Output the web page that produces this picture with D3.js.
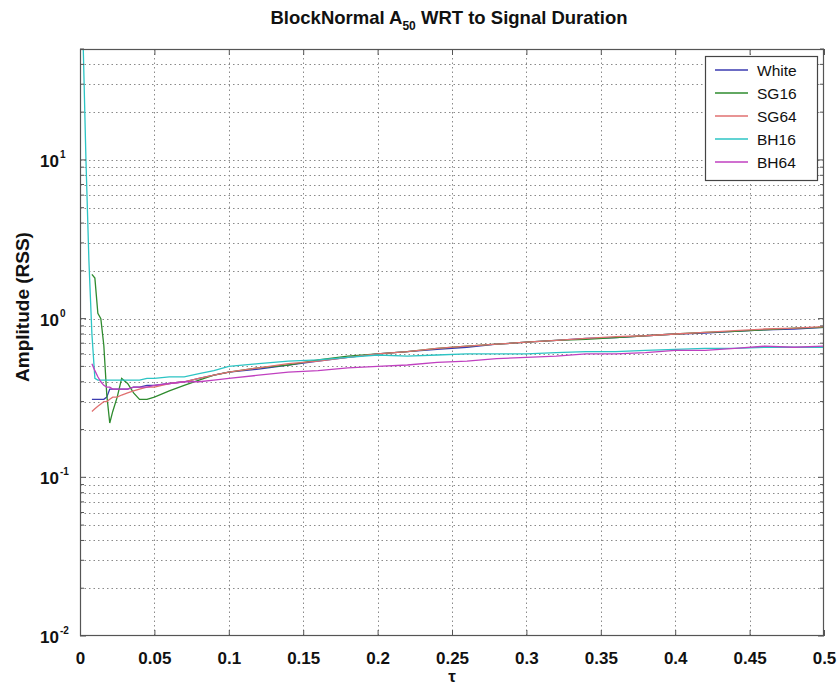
<!DOCTYPE html>
<html><head><meta charset="utf-8">
<script src="https://cdn.jsdelivr.net/npm/d3@7"></script>
<style>
body{margin:0;background:#fff;}
svg{display:block;}
text{font-family:"Liberation Sans",Arial,Helvetica,sans-serif;fill:#111;}
</style>
</head><body><svg id="chart" width="838" height="685"></svg>
<script>
// ---- data ----
const tau = [0.002,0.004,0.006,0.008,0.010,0.012,0.014,0.016,0.018,0.020,0.022,0.025,0.028,0.032,0.036,0.040,0.045,0.050,0.060,0.070,0.080,0.090,0.100,
             0.12,0.14,0.16,0.18,0.20,0.22,0.24,0.26,0.28,0.30,0.32,0.34,0.36,0.38,0.40,0.42,0.44,0.46,0.48,0.50];
const white = [null,null,null,0.31,0.31,0.31,0.31,0.31,0.32,0.36,0.36,0.36,0.36,0.36,0.37,0.37,0.38,0.38,0.39,0.40,0.42,0.44,0.46,
               0.48,0.51,0.54,0.57,0.60,0.62,0.64,0.66,0.69,0.71,0.73,0.75,0.76,0.78,0.80,0.81,0.83,0.85,0.86,0.88];
const sg16 = [null,null,null,1.9,1.8,1.08,1.0,0.68,0.33,0.22,0.26,0.32,0.42,0.39,0.34,0.31,0.31,0.32,0.35,0.38,0.41,0.44,0.46,
              0.49,0.51,0.55,0.58,0.60,0.62,0.65,0.67,0.69,0.71,0.73,0.74,0.76,0.78,0.80,0.82,0.83,0.85,0.87,0.88];
const sg64 = [null,null,null,0.26,0.27,0.28,0.29,0.30,0.30,0.31,0.32,0.32,0.33,0.34,0.35,0.36,0.37,0.37,0.39,0.40,0.42,0.44,0.46,
              0.49,0.52,0.54,0.57,0.60,0.62,0.65,0.67,0.69,0.71,0.73,0.75,0.77,0.78,0.80,0.82,0.84,0.86,0.87,0.89];
const bh16 = [60,10,2.3,0.8,0.42,0.41,0.41,0.41,0.41,0.41,0.41,0.41,0.41,0.41,0.41,0.41,0.42,0.42,0.43,0.43,0.45,0.47,0.50,
              0.52,0.54,0.55,0.57,0.59,0.58,0.59,0.60,0.60,0.60,0.61,0.62,0.62,0.63,0.64,0.65,0.65,0.66,0.66,0.66];
const bh64 = [null,null,null,0.52,0.47,0.43,0.40,0.38,0.37,0.37,0.36,0.36,0.36,0.36,0.37,0.37,0.37,0.38,0.39,0.40,0.40,0.41,0.42,
              0.44,0.46,0.47,0.49,0.50,0.51,0.53,0.54,0.56,0.57,0.58,0.60,0.60,0.61,0.63,0.63,0.65,0.67,0.66,0.67];
const seriesNames = ["White","SG16","SG64","BH16","BH64"];
const seriesValues = [white, sg16, sg64, bh16, bh64];
const seriesColors = ["#3b3bb0","#2e8b2e","#e07070","#2cc4c4","#c040c0"];
const xTicks = [0,0.05,0.1,0.15,0.2,0.25,0.3,0.35,0.4,0.45,0.5];
const xTickLabels = ["0","0.05","0.1","0.15","0.2","0.25","0.3","0.35","0.4","0.45","0.5"];
const yDecades = [-2,-1,0,1];

// ---- layout ----
const M = {left:80, right:824, top:49, bottom:636};
const svg = d3.select("#chart");
const x = d3.scaleLinear().domain([0,0.5]).range([M.left,M.right]);
const y = d3.scaleLog().domain([0.01,50]).range([M.bottom,M.top]);

const yGridVals = [];
yDecades.forEach(e => { for (let k=1;k<=9;k++){ const v=k*Math.pow(10,e); if (v<=50) yGridVals.push(v);} });

svg.append("rect").attr("x",M.left).attr("y",M.top).attr("width",M.right-M.left).attr("height",M.bottom-M.top).attr("fill","#fff");

// grid
const grid = svg.append("g").attr("stroke","#8a8a8a").attr("stroke-width",1).attr("stroke-dasharray","1.5,3");
grid.selectAll("line.gx").data(xTicks.slice(1,-1)).join("line")
  .attr("x1",d=>Math.round(x(d))+0.5).attr("x2",d=>Math.round(x(d))+0.5)
  .attr("y1",M.top).attr("y2",M.bottom);
grid.selectAll("line.gy").data(yGridVals.filter(v=>v>0.01)).join("line")
  .attr("x1",M.left).attr("x2",M.right)
  .attr("y1",d=>Math.round(y(d))+0.5).attr("y2",d=>Math.round(y(d))+0.5);

// lines
svg.append("clipPath").attr("id","clip").append("rect")
  .attr("x",M.left).attr("y",M.top).attr("width",M.right-M.left).attr("height",M.bottom-M.top);
const line = d3.line().defined(d=>d[1]!=null).x(d=>x(d[0])).y(d=>y(d[1]));
const lg = svg.append("g").attr("clip-path","url(#clip)");
seriesValues.forEach((vals,i)=>{
  lg.append("path").datum(tau.map((t,j)=>[t,vals[j]]))
    .attr("d",line).attr("fill","none").attr("stroke",seriesColors[i]).attr("stroke-width",1.3);
});

// axes box + inward ticks
svg.append("rect").attr("x",M.left+0.5).attr("y",M.top+0.5).attr("width",M.right-M.left-1).attr("height",M.bottom-M.top-1)
  .attr("fill","none").attr("stroke","#555").attr("stroke-width",1.2);

const xAxisB = d3.axisBottom(x).tickValues(xTicks).tickSize(-6).tickFormat((d,i)=>xTickLabels[i]);
const gxb = svg.append("g").attr("transform",`translate(0,${M.bottom})`).call(xAxisB);
gxb.select(".domain").remove();
gxb.selectAll(".tick line").attr("stroke","#555");
gxb.selectAll(".tick text").attr("y",28).attr("dy",0).attr("font-size",17).attr("font-weight","bold")
  .style("font-family",'"Liberation Sans",Arial,sans-serif').attr("fill","#111");
const xAxisT = d3.axisTop(x).tickValues(xTicks).tickSize(-6).tickFormat("");
const gxt = svg.append("g").attr("transform",`translate(0,${M.top})`).call(xAxisT);
gxt.select(".domain").remove();
gxt.selectAll(".tick line").attr("stroke","#555");

const yMajor = yDecades.map(e=>Math.pow(10,e));
const yMinor = yGridVals.filter(v=>!yMajor.includes(v));
function yTicks(side){
  const g = svg.append("g");
  const x0 = side==="L"?M.left:M.right, s = side==="L"?1:-1;
  g.selectAll("line.maj").data(yMajor).join("line")
    .attr("x1",x0).attr("x2",x0+s*6).attr("y1",d=>y(d)).attr("y2",d=>y(d)).attr("stroke","#555");
  g.selectAll("line.min").data(yMinor).join("line")
    .attr("x1",x0).attr("x2",x0+s*4).attr("y1",d=>y(d)).attr("y2",d=>y(d)).attr("stroke","#555");
}
yTicks("L"); yTicks("R");

const yl = svg.append("g");
yDecades.forEach(e=>{
  const t = yl.append("text").attr("x",M.left-22).attr("y",y(Math.pow(10,e))+7)
    .attr("text-anchor","start").attr("font-size",17).attr("font-weight","bold");
  t.attr("x",40);
  t.append("tspan").text("10");
  t.append("tspan").attr("dx",1).attr("dy",-9).attr("font-size",10).text(String(e));
});

// titles
const title = svg.append("text").attr("x",449).attr("y",24).attr("text-anchor","middle")
  .attr("font-size",18.5).attr("font-weight","bold");
title.append("tspan").text("BlockNormal A");
title.append("tspan").attr("dy",6).attr("font-size",12).text("50");
title.append("tspan").attr("dy",-6).text(" WRT to Signal Duration");

svg.append("text").attr("x",452).attr("y",682).attr("text-anchor","middle")
  .attr("font-size",17).attr("font-weight","bold").text("τ");
svg.append("text").attr("transform",`translate(29,307) rotate(-90)`).attr("text-anchor","middle")
  .attr("font-size",19).attr("font-weight","bold").text("Amplitude (RSS)");

// legend
const L = {x:705, y:56, w:112, h:124};
const leg = svg.append("g");
leg.append("rect").attr("x",L.x+0.5).attr("y",L.y+0.5).attr("width",L.w).attr("height",L.h)
  .attr("fill","#fff").attr("stroke","#444").attr("stroke-width",1.2);
seriesNames.forEach((n,i)=>{
  const yy = L.y + 14 + i*23;
  leg.append("line").attr("x1",L.x+10).attr("x2",L.x+43).attr("y1",yy).attr("y2",yy)
    .attr("stroke",seriesColors[i]).attr("stroke-width",1.5);
  leg.append("text").attr("x",L.x+52).attr("y",yy+6).attr("font-size",15.5).text(n);
});
</script>
</body></html>
